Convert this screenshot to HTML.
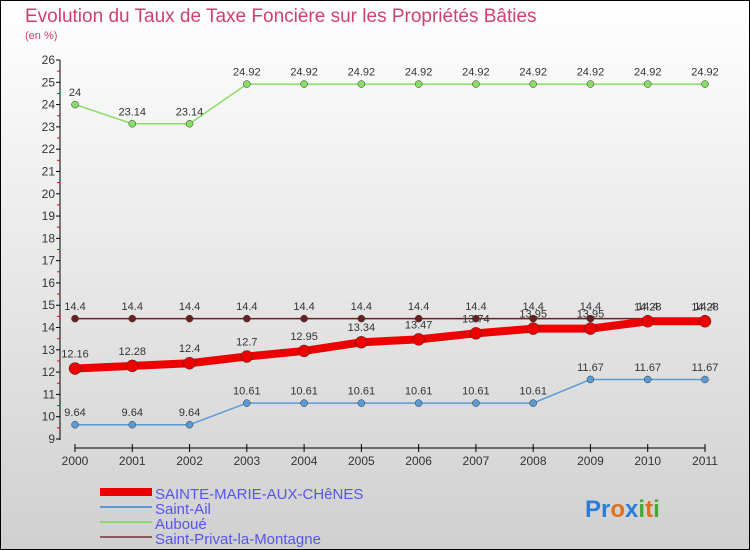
<!DOCTYPE html>
<html><head><meta charset="utf-8"><style>
body{margin:0}
#c{width:750px;height:550px;position:relative;background:linear-gradient(#fff,#d0d0d0);font-family:"Liberation Sans",sans-serif;border:1px solid #000;box-sizing:border-box;overflow:hidden}
</style></head><body>
<div id="c">
<svg id="s" width="750" height="550" style="position:absolute;left:-1px;top:-1px">
<text x="25" y="22" font-size="19" fill="#d04070">Evolution du Taux de Taxe Foncière sur les Propriétés Bâties</text>
<text x="25" y="39" font-size="11" fill="#d04070">(en %)</text>
<line x1="60" y1="60" x2="60" y2="440" stroke="#000"/>
<line x1="75" y1="448" x2="705" y2="448" stroke="#000"/>
<g id="ax"></g><g id="ser"></g>
<g>
<rect x="100" y="488" width="52" height="8" fill="#e00"/>
<text x="155" y="499" font-size="15" fill="#5555ee">SAINTE-MARIE-AUX-CHêNES</text>
<rect x="100" y="506" width="52" height="2" fill="#5b9bd5"/><text x="155" y="514" font-size="15" fill="#5555ee">Saint-Ail</text>
<rect x="100" y="521" width="52" height="2" fill="#88dd66"/><text x="155" y="529" font-size="15" fill="#5555ee">Auboué</text>
<rect x="100" y="536" width="52" height="2" fill="#8b5a5a"/><text x="155" y="544" font-size="15" fill="#5555ee">Saint-Privat-la-Montagne</text>
</g>
<text x="585" y="517" font-size="24" font-weight="bold"><tspan fill="#2a7fd4">Pr</tspan><tspan fill="#e07020">o</tspan><tspan fill="#2a7fd4">x</tspan><tspan fill="#44aa33">i</tspan><tspan fill="#e07020">t</tspan><tspan fill="#44aa33">i</tspan></text>
</svg></div>
<script>
const years=[2000,2001,2002,2003,2004,2005,2006,2007,2008,2009,2010,2011];
const sainteMarie=[12.16,12.28,12.4,12.7,12.95,13.34,13.47,13.74,13.95,13.95,14.28,14.28];
const saintAil=[9.64,9.64,9.64,10.61,10.61,10.61,10.61,10.61,10.61,11.67,11.67,11.67];
const auboue=[24,23.14,23.14,24.92,24.92,24.92,24.92,24.92,24.92,24.92,24.92,24.92];
const saintPrivat=[14.4,14.4,14.4,14.4,14.4,14.4,14.4,14.4,14.4,14.4,14.4,14.4];
const yTicks=[9,10,11,12,13,14,15,16,17,18,19,20,21,22,23,24,25,26];
const NS="http://www.w3.org/2000/svg";
const X=i=>75+i*(630/11), Y=v=>439-(v-9)*(379/17);
function el(t,a,p){const e=document.createElementNS(NS,t);for(const k in a)e.setAttribute(k,a[k]);p.appendChild(e);return e;}
const ax=document.getElementById('ax');
yTicks.forEach(v=>{
 const l=el('line',{x1:56,x2:60,y1:Y(v),y2:Y(v),stroke:'#000'},ax);
 
 
 if(v<26){el('line',{x1:57,x2:60,y1:Y(v+0.5),y2:Y(v+0.5),stroke:'#e00'},ax);}
 const t=el('text',{x:55,y:Y(v)+4,'font-size':12,'text-anchor':'end',fill:'#333'},ax);t.textContent=v;
 
 
});
years.forEach((y,i)=>{
 el('line',{x1:X(i),x2:X(i),y1:444,y2:452,stroke:'#000'},ax);
 const t=el('text',{x:X(i),y:465,'font-size':12,'text-anchor':'middle',fill:'#333'},ax);t.textContent=y;
 
 
});
const ser=document.getElementById('ser');
function draw(d,col,w,r,name){
 const g=el('g',{},ser);
 
 
 el('polyline',{points:d.map((v,i)=>X(i)+','+Y(v)).join(' '),fill:'none',stroke:col,'stroke-width':w},g);
 d.forEach((v,i)=>{
  const c=el('circle',{cx:X(i),cy:Y(v),r:r,fill:col,stroke:'#333','stroke-width':0.5},g);
  
  
  const t=el('text',{x:X(i),y:Y(v)-(r+5),'font-size':11,'text-anchor':'middle',fill:'#333'},g);t.textContent=v;
 });
}
draw(auboue,'#88dd66',1.5,3.5,'series-auboue');
draw(saintAil,'#5b9bd5',1.5,3.5,'series-saint-ail');
draw(saintPrivat,'#6b2020',1.5,3.5,'series-saint-privat');
draw(sainteMarie,'#e00',8,6,'series-sainte-marie');
</script>
</body></html>
